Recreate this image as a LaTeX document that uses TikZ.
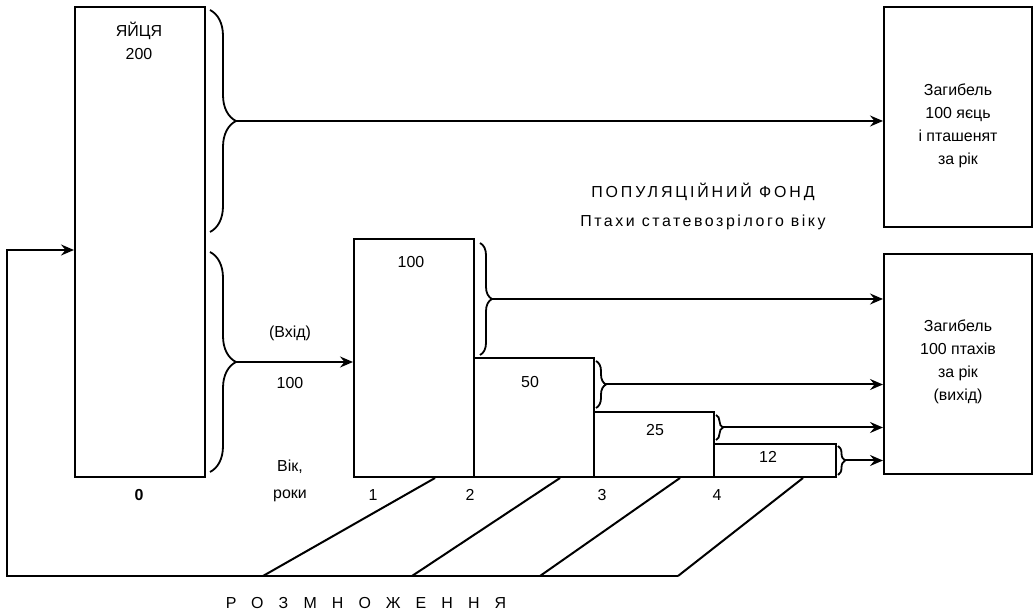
\documentclass[tikz,border=0pt]{standalone}
\usepackage{fontspec}
\setmainfont{Liberation Sans}
\usetikzlibrary{arrows.meta,decorations.pathreplacing}

\begin{document}
\begin{tikzpicture}[x=1bp,y=1bp,
  box/.style={draw,line width=2bp,inner sep=0pt,anchor=south west},
  lbl/.style={font=\fontsize{16}{23}\selectfont,align=center,inner sep=0pt},
  arr/.style={line width=2bp,-{Stealth[length=13bp,width=11bp,inset=4.5bp]}},
  brc/.style={decorate,line width=1.8bp,decoration={brace,amplitude=#1}},
  ln/.style={line width=2bp}]
\path[use as bounding box] (0,0) rectangle (1033,614);
\node[box,minimum width=130bp,minimum height=470bp] (eggs) at (74,136) {};
\node[box,minimum width=120bp,minimum height=238bp] (age1) at (353,136) {};
\node[box,minimum width=120bp,minimum height=119bp] (age2) at (473,136) {};
\node[box,minimum width=120bp,minimum height=65bp] (age3) at (593,136) {};
\node[box,minimum width=122bp,minimum height=33bp] (age4) at (713,136) {};
\node[box,minimum width=148bp,minimum height=220bp] (lossE) at (883,386) {};
\node[box,minimum width=148bp,minimum height=220bp] (lossB) at (883,139) {};
\node[lbl] (eggsT) at (139,573) {ЯЙЦЯ\\200};
\node[lbl] (age1T) at (411,352) {100};
\node[lbl] (age2T) at (530,232) {50};
\node[lbl] (age3T) at (655,184) {25};
\node[lbl] (age4T) at (768,157) {12};
\node[lbl] (lossET) at (958,488) {Загибель\\100 яєць\\і пташенят\\за рік};
\node[lbl] (lossBT) at (958,252) {Загибель\\100 птахів\\за рік\\(вихід)};
\node[lbl,font=\fontsize{16}{23}\selectfont\addfontfeature{LetterSpace=18}] (fundT) at (703,422) {ПОПУЛЯЦІЙНИЙ ФОНД};
\node[lbl,font=\fontsize{16}{23}\selectfont\addfontfeature{LetterSpace=16}] (fundS) at (703,392) {Птахи статевозрілого віку};
\node[lbl] (inT) at (290,281) {(Вхід)};
\node[lbl] (inN) at (290,231) {100};
\node[lbl,font=\fontsize{16}{27}\selectfont] (ageT) at (290,133) {Вік,\\роки};
\node[lbl,font=\fontsize{16}{23}\selectfont\bfseries] (y0) at (139,119) {0};
\node[lbl] (y1) at (373,119) {1};
\node[lbl] (y2) at (470,119) {2};
\node[lbl] (y3) at (602,119) {3};
\node[lbl] (y4) at (717,119) {4};
\node[lbl,font=\fontsize{16}{23}\selectfont\addfontfeature{LetterSpace=95}] (breedT) at (366,11) {РОЗМНОЖЕННЯ};
\draw[brc=26bp] (210,604) -- (210,382);
\draw[brc=26bp] (210,362) -- (210,142);
\draw[brc=12bp] (480,371) -- (480,259);
\draw[brc=10bp] (596,253) -- (596,206);
\draw[brc=7bp] (716,199) -- (716,174);
\draw[brc=7bp] (838,168) -- (838,139);
\coordinate (tipE) at (236,493);
\coordinate (tipIn) at (236,252);
\coordinate (tip1) at (492,315);
\coordinate (tip2) at (606,229.5);
\coordinate (tip3) at (723,186.5);
\coordinate (tip4) at (845,153.5);
\draw[arr] (tipE) -- (tipE -| lossE.west);
\draw[arr] (tipIn) -- (tipIn -| age1.west);
\draw[arr] (tip1) -- (tip1 -| lossB.west);
\draw[arr] (tip2) -- (tip2 -| lossB.west);
\draw[arr] (tip3) -- (tip3 -| lossB.west);
\draw[arr] (tip4) -- (tip4 -| lossB.west);
\coordinate (fbR) at (678,38);
\coordinate (fbL) at (7,38);
\coordinate (fbT) at (7,364);
\draw[arr] (fbR) -- (fbL) -- (fbT) -- (fbT -| eggs.west);
\draw[ln] ([xshift=82bp]age1.south west) -- (263,38);
\draw[ln] ([xshift=87bp]age2.south west) -- (412,38);
\draw[ln] ([xshift=87bp]age3.south west) -- (540,38);
\draw[ln] ([xshift=90bp]age4.south west) -- (fbR);
\end{tikzpicture}
\end{document}
